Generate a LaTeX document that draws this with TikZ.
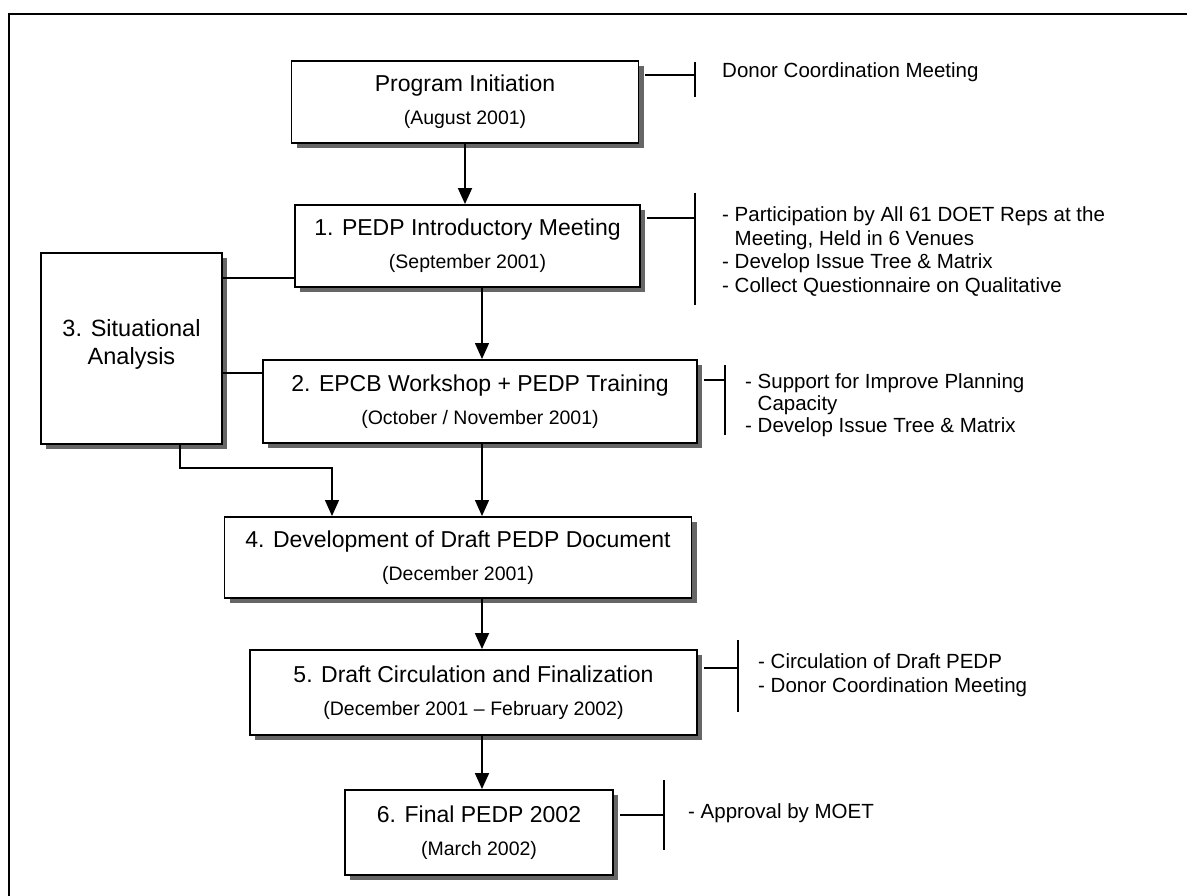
\documentclass[tikz,border=0pt]{standalone}
\usepackage{fontspec}
\setmainfont{Liberation Sans}
\usetikzlibrary{arrows.meta,shadows}
\newcommand\mydatefont{\fontsize{19.5}{23}\selectfont}
\begin{document}
\begin{tikzpicture}[x=1pt,y=-1pt,
  box/.style={draw=black, line width=1.9pt, fill=white, inner sep=0pt, align=center,
    font=\fontsize{23}{26}\selectfont,
    drop shadow={shadow xshift=5pt, shadow yshift=-5pt, fill=black!60, opacity=1}},
  arr/.style={line width=1.8pt, -{Triangle[width=14pt,length=16pt]}},
  thinarr/.style={line width=1.2pt, -{Triangle[width=14pt,length=16pt]}},
  link/.style={line width=1.2pt},
  side/.style={anchor=west, align=left, inner sep=0pt, font=\fontsize{20.5}{23.5}\selectfont},
  brk/.style={line width=1.3pt}
]
\useasboundingbox (0,0) rectangle (1187,896);
\fill[white] (0,0) rectangle (1187,896);
\draw[line width=1.8pt] (9,896) -- (9,14) -- (1187,14);

% boxes
\node[box, minimum width=347pt, minimum height=82pt] (b0) at (465,102) {Program Initiation\\[7pt]{\mydatefont (August 2001)}};
\node[box, minimum width=345pt, minimum height=82pt] (b1) at (467.5,246) {1. PEDP Introductory Meeting\\[7pt]{\mydatefont (September 2001)}};
\node[box, minimum width=434pt, minimum height=83pt] (b2) at (480,401.5) {2. EPCB Workshop + PEDP Training\\[7pt]{\mydatefont (October / November 2001)}};
\node[box, minimum width=181pt, minimum height=191pt, font=\fontsize{23.5}{28}\selectfont] (b3) at (131.5,348.5) {3. Situational\\Analysis\\[-14pt]\mbox{}};
\node[box, minimum width=467pt, minimum height=81pt] (b4) at (458,557.5) {4. Development of Draft PEDP Document\\[7pt]{\mydatefont (December 2001)}};
\node[box, minimum width=447pt, minimum height=85pt] (b5) at (473.5,692.5) {5. Draft Circulation and Finalization\\[7pt]{\mydatefont (December 2001 -- February 2002)}};
\node[box, minimum width=268pt, minimum height=85pt] (b6) at (479,832.5) {6. Final PEDP 2002\\[7pt]{\mydatefont (March 2002)}};

% main arrows
\coordinate (ax) at (482,0);
\draw[arr] (b0.south) -- (b0.south |- b1.north);
\draw[thinarr] (b1.south -| ax) -- (b2.north -| ax);
\draw[thinarr] (b2.south -| ax) -- (b4.north -| ax);
\draw[arr] (b4.south -| ax) -- (b5.north -| ax);
\draw[arr] (b5.south -| ax) -- (b6.north -| ax);

% situational analysis links
\draw[link] (b3.east |- 0,278) -- (b1.west |- 0,278);
\draw[link] (b3.east |- 0,373) -- (b2.west |- 0,373);
\coordinate (j1) at (180,468);
\coordinate (j2) at (332,468);
\draw[thinarr] (b3.south -| j1) -- (j1) -- (j2) -- (j2 |- b4.north);

% side notes
\node[side] (t0) at (722,72) {Donor Coordination Meeting};
\node[side] (t1) at (722,251.5) {- Participation by All 61 DOET Reps at the\\\hphantom{- }Meeting, Held in 6 Venues\\- Develop Issue Tree \& Matrix\\- Collect Questionnaire on Qualitative};
\node[side, font=\fontsize{20.5}{22}\selectfont] (t2) at (745,405) {- Support for Improve Planning\\\hphantom{- }Capacity\\- Develop Issue Tree \& Matrix};
\node[side] (t5) at (758,675) {- Circulation of Draft PEDP\\- Donor Coordination Meeting};
\node[side] (t6) at (688,813) {- Approval by MOET};

% brackets
\coordinate (k0) at (695,75);
\draw[brk] (b0.east |- k0) ++(6,0) -- (k0) (k0 |- 0,62) -- (k0 |- 0,97);
\coordinate (k1) at (695,218);
\draw[brk] (b1.east |- k1) ++(6,0) -- (k1) (k1 |- 0,193) -- (k1 |- 0,305);
\coordinate (k2) at (725,380);
\draw[brk] (b2.east |- k2) ++(6,0) -- (k2) (k2 |- 0,365) -- (k2 |- 0,435);
\coordinate (k5) at (738,668);
\draw[brk] (b5.east |- k5) ++(6,0) -- (k5) (k5 |- 0,640) -- (k5 |- 0,712);
\coordinate (k6) at (664,815);
\draw[brk] (b6.east |- k6) ++(6,0) -- (k6) (k6 |- 0,780) -- (k6 |- 0,850);
\end{tikzpicture}
\end{document}
